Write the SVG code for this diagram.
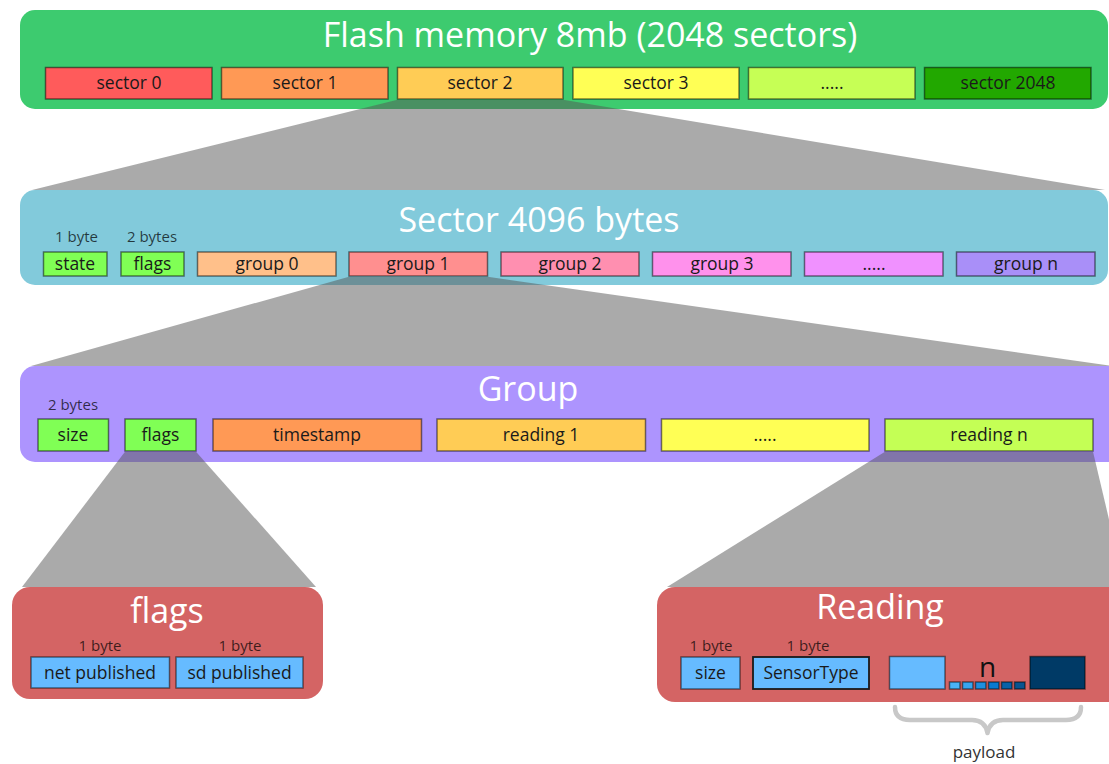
<svg xmlns="http://www.w3.org/2000/svg" width="1109" height="764" viewBox="0 0 1109 764">
  <style>
    text { font-family: "Open Sans", "Noto Sans", "DejaVu Sans", sans-serif; }
    .title { font-size: 34px; fill: #ffffff; text-anchor: middle; }
    .cell { stroke: #000000; stroke-opacity: 0.5; stroke-width: 1.5; }
    .lbl { font-size: 17.5px; fill: #1a1a1a; text-anchor: middle; }
    .note { font-size: 15px; fill: #000000; fill-opacity: 0.72; text-anchor: middle; }
    .zoom { fill: #555555; fill-opacity: 0.5; }
  </style>

  <!-- Flash memory: 2048 sectors -->
  <g id="flash">
    <rect x="20" y="10" width="1088" height="99" rx="15" fill="#3dcb6f"/>
    <text class="title" x="590" y="47">Flash memory 8mb (2048 sectors)</text>
    <rect class="cell" x="45.5" y="67.5" width="166.5" height="31.5" fill="#ff5b5b"/>
    <text class="lbl" x="129" y="89">sector 0</text>
    <rect class="cell" x="221.5" y="67.5" width="166.5" height="31.5" fill="#ff9955"/>
    <text class="lbl" x="305" y="89">sector 1</text>
    <rect class="cell" x="397.5" y="67.5" width="165.5" height="31.5" fill="#ffcc55"/>
    <text class="lbl" x="480" y="89">sector 2</text>
    <rect class="cell" x="573" y="67.5" width="166" height="31.5" fill="#ffff55"/>
    <text class="lbl" x="656" y="89">sector 3</text>
    <rect class="cell" x="748.5" y="67.5" width="166.5" height="31.5" fill="#c6ff55"/>
    <text class="lbl" x="832" y="89">.....</text>
    <rect class="cell" x="924.5" y="67.5" width="166.5" height="31.5" fill="#22a800"/>
    <text class="lbl" x="1008" y="89">sector 2048</text>
  </g>

  <!-- One sector: 4096 bytes -->
  <g id="sector">
    <rect x="20" y="190" width="1088" height="95" rx="15" fill="#82cadb"/>
    <text class="title" x="539" y="232">Sector 4096 bytes</text>
    <text class="note" x="76.5" y="242">1 byte</text>
    <text class="note" x="152" y="242">2 bytes</text>
    <rect class="cell" x="43.5" y="252" width="63.5" height="24" fill="#80ff55"/>
    <text class="lbl" x="75" y="270">state</text>
    <rect class="cell" x="121" y="252" width="63" height="24" fill="#80ff55"/>
    <text class="lbl" x="152.5" y="270">flags</text>
    <rect class="cell" x="197.5" y="252" width="138.5" height="24" fill="#ffc08a"/>
    <text class="lbl" x="267" y="270">group 0</text>
    <rect class="cell" x="349" y="252" width="138.5" height="24" fill="#ff8f8f"/>
    <text class="lbl" x="418" y="270">group 1</text>
    <rect class="cell" x="501" y="252" width="138" height="24" fill="#ff8fb0"/>
    <text class="lbl" x="570" y="270">group 2</text>
    <rect class="cell" x="652.5" y="252" width="138.5" height="24" fill="#ff91ec"/>
    <text class="lbl" x="722" y="270">group 3</text>
    <rect class="cell" x="804.5" y="252" width="138.5" height="24" fill="#f091ff"/>
    <text class="lbl" x="874" y="270">.....</text>
    <rect class="cell" x="956.5" y="252" width="138.5" height="24" fill="#a98ff8"/>
    <text class="lbl" x="1026" y="270">group n</text>
  </g>

  <!-- One group of readings -->
  <g id="group">
    <rect x="20" y="366" width="1110" height="96" rx="15" fill="#ad94fe"/>
    <text class="title" x="528" y="401">Group</text>
    <text class="note" x="73" y="410">2 bytes</text>
    <rect class="cell" x="38" y="419" width="70.5" height="32" fill="#80ff55"/>
    <text class="lbl" x="73" y="441">size</text>
    <rect class="cell" x="125" y="419" width="71" height="32" fill="#80ff55"/>
    <text class="lbl" x="160.5" y="441">flags</text>
    <rect class="cell" x="213" y="419" width="208.5" height="32" fill="#ff9955"/>
    <text class="lbl" x="317" y="441">timestamp</text>
    <rect class="cell" x="437" y="419" width="208.5" height="32" fill="#ffcc55"/>
    <text class="lbl" x="541" y="441">reading 1</text>
    <rect class="cell" x="661.5" y="419" width="207.5" height="32" fill="#ffff55"/>
    <text class="lbl" x="765" y="441">.....</text>
    <rect class="cell" x="885" y="419" width="208" height="32" fill="#c4ff55"/>
    <text class="lbl" x="989" y="441">reading n</text>
  </g>

  <!-- Group flags byte -->
  <g id="flags">
    <rect x="12" y="587" width="311" height="112" rx="18" fill="#d46464"/>
    <text class="title" x="167" y="623">flags</text>
    <text class="note" x="100" y="651">1 byte</text>
    <text class="note" x="240" y="651">1 byte</text>
    <rect class="cell" x="31" y="657" width="138.5" height="31" fill="#66bbff"/>
    <text class="lbl" x="100" y="678.5">net published</text>
    <rect class="cell" x="176" y="657" width="127" height="31" fill="#66bbff"/>
    <text class="lbl" x="239.5" y="678.5">sd published</text>
  </g>

  <!-- One reading -->
  <g id="reading">
    <rect x="657" y="587" width="480" height="115" rx="18" fill="#d46464"/>
    <text class="title" x="880" y="619">Reading</text>
    <text class="note" x="711" y="651">1 byte</text>
    <text class="note" x="808" y="651">1 byte</text>
    <rect class="cell" x="681" y="657" width="59" height="32" fill="#66bbff"/>
    <text class="lbl" x="710.5" y="678.5">size</text>
    <rect x="753" y="657" width="116" height="32" fill="#66bbff" stroke="#1a1a1a" stroke-width="1.8"/>
    <text class="lbl" x="811" y="678.5">SensorType</text>
    <!-- payload: first byte, n bytes, last byte -->
    <rect class="cell" x="889.5" y="656.5" width="55.5" height="32.5" fill="#66bbff"/>
    <rect class="cell" x="949.5" y="682" width="10.5" height="7" fill="#4ab4f7"/>
    <rect class="cell" x="962.5" y="682" width="10.5" height="7" fill="#38a5ef"/>
    <rect class="cell" x="975.5" y="682" width="10.5" height="7" fill="#1e90e0"/>
    <rect class="cell" x="988.5" y="682" width="10.5" height="7" fill="#0a7ad0"/>
    <rect class="cell" x="1001.5" y="682" width="10.5" height="7" fill="#0a62a8"/>
    <rect class="cell" x="1014.5" y="682" width="10.5" height="7" fill="#085490"/>
    <text x="987.5" y="677" font-size="28" text-anchor="middle" fill="#111111">n</text>
    <rect class="cell" x="1030" y="656.5" width="55" height="32.5" fill="#003a66"/>
    <path d="M 895 707 Q 895 720 910 720 L 972 720 Q 985 720 987.5 733 Q 990 720 1003 720 L 1066 720 Q 1081 720 1081 707" fill="none" stroke="#c8c8c8" stroke-width="4.5" stroke-linecap="round" stroke-linejoin="round"/>
    <text x="984" y="758" font-size="17" text-anchor="middle" fill="#333333">payload</text>
  </g>

  <!-- Zoom wedges from a cell to the box that details it -->
  <g id="connectors">
    <polygon class="zoom" points="397.5,99.75 563,99.75 1105,190 32,190"/>
    <polygon class="zoom" points="349,276.75 487.5,276.75 1112,366 31,366"/>
    <polygon class="zoom" points="125,451.75 196,451.75 316,587 22,587"/>
    <polygon class="zoom" points="885,451.75 1093,451.75 1125,587 667,587"/>
  </g>
</svg>
